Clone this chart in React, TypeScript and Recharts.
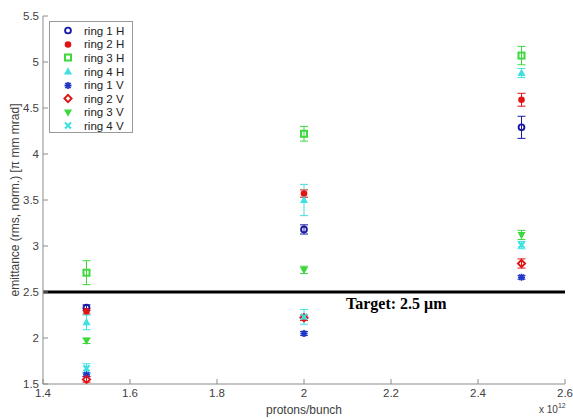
import React from 'react';
import { ScatterChart, Scatter, XAxis, YAxis, ErrorBar, ReferenceLine } from 'recharts';

// protons per bunch, in units of 1e12
const protons = [1.5, 2.0, 2.5];

const ring1H = [2.33, 3.18, 4.29];
const ring2H = [2.29, 3.57, 4.59];
const ring3H = [2.71, 4.22, 5.07];
const ring4H = [2.17, 3.5, 4.88];
const ring1V = [1.6, 2.05, 2.66];
const ring2V = [1.55, 2.22, 2.81];
const ring3V = [1.97, 2.74, 3.12];
const ring4V = [1.67, 2.23, 3.01];

const ring1HErr = [0.03, 0.05, 0.12];
const ring2HErr = [0.03, 0.04, 0.07];
const ring3HErr = [0.13, 0.08, 0.1];
const ring4HErr = [0.08, 0.17, 0.05];
const ring1VErr = [0.02, 0.02, 0.02];
const ring2VErr = [0.03, 0.03, 0.05];
const ring3VErr = [0.03, 0.04, 0.05];
const ring4VErr = [0.05, 0.08, 0.04];

const xTicks = [1.4, 1.6, 1.8, 2.0, 2.2, 2.4, 2.6];
const yTicks = [1.5, 2, 2.5, 3, 3.5, 4, 4.5, 5, 5.5];
const target = 2.5;

const BLUE = '#1a1aa6';
const RED = '#e01414';
const GREEN = '#3cd83c';
const CYAN = '#3ee0e0';
const BLUE2 = '#2036c8';

type Mark = (cx: number, cy: number, c: string) => React.ReactElement;

const circleOpen: Mark = (cx, cy, c) => (
  <circle cx={cx} cy={cy} r={2.9} fill="none" stroke={c} strokeWidth={1.9} />
);
const dot: Mark = (cx, cy, c) => <circle cx={cx} cy={cy} r={3.3} fill={c} />;
const squareOpen: Mark = (cx, cy, c) => (
  <rect x={cx - 3} y={cy - 3} width={6} height={6} fill="none" stroke={c} strokeWidth={2} />
);
const triUp: Mark = (cx, cy, c) => (
  <polygon points={`${cx},${cy - 4.3} ${cx - 4},${cy + 3} ${cx + 4},${cy + 3}`} fill={c} />
);
const star: Mark = (cx, cy, c) => (
  <g stroke={c} strokeWidth={1.8}>
    <line x1={cx - 3.5} y1={cy} x2={cx + 3.5} y2={cy} />
    <line x1={cx} y1={cy - 3.5} x2={cx} y2={cy + 3.5} />
    <line x1={cx - 2.6} y1={cy - 2.6} x2={cx + 2.6} y2={cy + 2.6} />
    <line x1={cx - 2.6} y1={cy + 2.6} x2={cx + 2.6} y2={cy - 2.6} />
  </g>
);
const diamondOpen: Mark = (cx, cy, c) => (
  <polygon
    points={`${cx},${cy - 3.6} ${cx + 3.6},${cy} ${cx},${cy + 3.6} ${cx - 3.6},${cy}`}
    fill="none"
    stroke={c}
    strokeWidth={1.9}
  />
);
const triDown: Mark = (cx, cy, c) => (
  <polygon points={`${cx - 4},${cy - 3} ${cx + 4},${cy - 3} ${cx},${cy + 4.3}`} fill={c} />
);
const xMark: Mark = (cx, cy, c) => (
  <g stroke={c} strokeWidth={2.2}>
    <line x1={cx - 3} y1={cy - 3} x2={cx + 3} y2={cy + 3} />
    <line x1={cx - 3} y1={cy + 3} x2={cx + 3} y2={cy - 3} />
  </g>
);

const series = [
  { name: 'ring 1 H', vals: ring1H, errs: ring1HErr, color: BLUE, mark: circleOpen },
  { name: 'ring 2 H', vals: ring2H, errs: ring2HErr, color: RED, mark: dot },
  { name: 'ring 3 H', vals: ring3H, errs: ring3HErr, color: GREEN, mark: squareOpen },
  { name: 'ring 4 H', vals: ring4H, errs: ring4HErr, color: CYAN, mark: triUp },
  { name: 'ring 1 V', vals: ring1V, errs: ring1VErr, color: BLUE2, mark: star },
  { name: 'ring 2 V', vals: ring2V, errs: ring2VErr, color: RED, mark: diamondOpen },
  { name: 'ring 3 V', vals: ring3V, errs: ring3VErr, color: GREEN, mark: triDown },
  { name: 'ring 4 V', vals: ring4V, errs: ring4VErr, color: CYAN, mark: xMark },
];

const AXIS = '#8c8c8c';
const TEXT = '#404040';
const FONT = 'Arial, "Liberation Sans", sans-serif';

const fmt = (v: number) => String(Number(v.toFixed(1)));
const NoTick = () => <g />;

const YTitle = (props: any) => {
  const vb = props.viewBox || {};
  const cx = vb.x + 15;
  const cy = vb.y + vb.height / 2;
  return (
    <text
      x={cx}
      y={cy}
      transform={`rotate(-90 ${cx} ${cy})`}
      textAnchor="middle"
      dominantBaseline="central"
      fontSize={12}
      fontFamily={FONT}
      fill={TEXT}
    >
      emittance (rms, norm.) [π mm mrad]
    </text>
  );
};

const XTitle = (props: any) => {
  const vb = props.viewBox || {};
  return (
    <g fontFamily={FONT} fill={TEXT}>
      <text x={vb.x + vb.width / 2} y={vb.y + 30} textAnchor="middle" fontSize={12}>
        protons/bunch
      </text>
      <text x={vb.x + vb.width - 26} y={vb.y + 29} fontSize={10}>
        x 10
        <tspan fontSize={7} dy={-5}>
          12
        </tspan>
      </text>
    </g>
  );
};

const TargetLabel = (props: any) => {
  const vb = props.viewBox || {};
  return (
    <text
      x={vb.x + 303}
      y={vb.y + 17}
      fontFamily='"Liberation Serif", "Times New Roman", serif'
      fontWeight="bold"
      fontSize={16}
      fill="#000"
    >
      Target: 2.5 μm
    </text>
  );
};

const Legend = () => (
  <div
    style={{
      position: 'absolute',
      left: 49,
      top: 21,
      width: 84,
      height: 112,
      border: '1px solid #9a9a9a',
      background: '#fff',
      fontFamily: FONT,
      fontSize: 11.5,
      color: '#222',
      paddingTop: 2,
      boxSizing: 'border-box',
    }}
  >
    {series.map((s) => (
      <div key={s.name} style={{ display: 'flex', alignItems: 'center', height: 13.6 }}>
        <svg width={30} height={13} style={{ flex: 'none' }}>
          {s.mark(18, 6.5, s.color)}
        </svg>
        <span style={{ marginLeft: 4 }}>{s.name}</span>
      </div>
    ))}
  </div>
);

export default function App() {
  return (
    <div style={{ position: 'relative', width: 573, height: 419, background: '#fff' }}>
      <style>{'body{margin:0}'}</style>
      <ScatterChart width={573} height={419} margin={{ top: 16, right: 8, bottom: 0, left: 0 }}>
        <XAxis
          xAxisId="top"
          orientation="top"
          type="number"
          domain={[1.4, 2.6]}
          ticks={xTicks}
          height={0}
          tick={NoTick}
          tickSize={-5}
          stroke={AXIS}
        />
        <YAxis
          yAxisId="right"
          orientation="right"
          type="number"
          domain={[1.5, 5.5]}
          ticks={yTicks}
          width={0}
          tick={NoTick}
          tickSize={-5}
          stroke={AXIS}
        />
        <XAxis
          dataKey="x"
          type="number"
          domain={[1.4, 2.6]}
          ticks={xTicks}
          tickFormatter={fmt}
          height={35}
          tickSize={-5}
          tickMargin={10}
          stroke={AXIS}
          tick={{ fill: TEXT, fontSize: 11.5, fontFamily: FONT }}
          label={<XTitle />}
        />
        <YAxis
          dataKey="y"
          type="number"
          domain={[1.5, 5.5]}
          ticks={yTicks}
          tickFormatter={fmt}
          width={43}
          tickSize={-5}
          tickMargin={9}
          stroke={AXIS}
          tick={{ fill: TEXT, fontSize: 11.5, fontFamily: FONT }}
          label={<YTitle />}
        />
        <ReferenceLine y={target} stroke="#000" strokeWidth={3} label={<TargetLabel />} />
        {series.map((s) => (
          <Scatter
            key={s.name}
            name={s.name}
            data={protons.map((p, i) => ({ x: p, y: s.vals[i], err: s.errs[i] }))}
            isAnimationActive={false}
            shape={(p: any) => s.mark(p.cx, p.cy, s.color)}
          >
            <ErrorBar dataKey="err" direction="y" width={4} stroke={s.color} strokeWidth={1} />
          </Scatter>
        ))}
      </ScatterChart>
      <Legend />
    </div>
  );
}
